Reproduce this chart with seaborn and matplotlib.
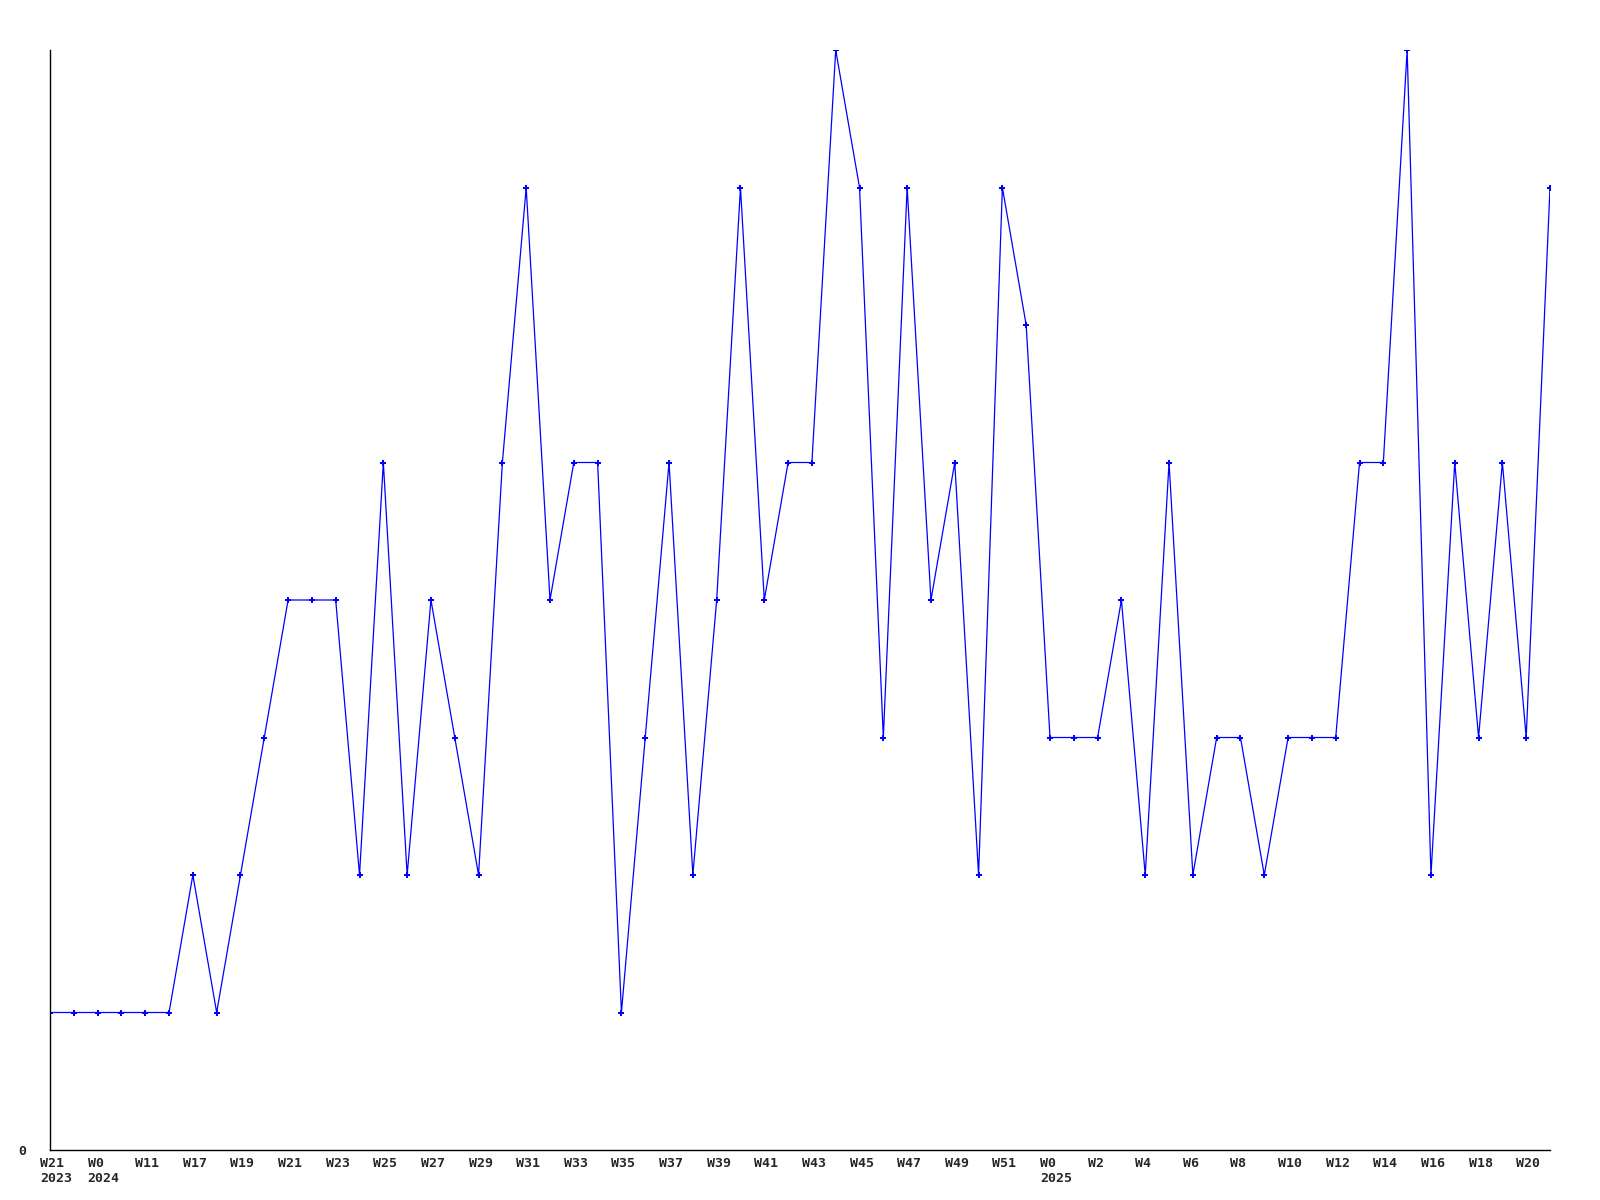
import matplotlib
matplotlib.use("Agg")
import matplotlib.pyplot as plt
import matplotlib.transforms as mtransforms
import numpy as np
import seaborn as sns

# weekly counts, one per point
values = [1, 1, 1, 1, 1, 1, 2, 1, 2, 3,
          4, 4, 4, 2, 5, 2, 4, 3, 2, 5,
          7, 4, 5, 5, 1, 3, 5, 2, 4, 7,
          4, 5, 5, 8, 7, 3, 7, 4, 5, 2,
          7, 6, 3, 3, 3, 4, 2, 5, 2, 3,
          3, 2, 3, 3, 3, 5, 5, 8, 2, 5,
          3, 5, 3, 7]
week_labels = ["W21\n2023", "W0\n2024", "W11", "W17", "W19", "W21", "W23", "W25",
               "W27", "W29", "W31", "W33", "W35", "W37", "W39", "W41",
               "W43", "W45", "W47", "W49", "W51", "W0\n2025", "W2", "W4",
               "W6", "W8", "W10", "W12", "W14", "W16", "W18", "W20"]

x = np.arange(len(values))

sns.set_style("white")
plt.rcParams['font.family'] = ['DejaVu Sans Mono']

fig = plt.figure(figsize=(16, 12), dpi=100)
ax = fig.add_axes([50 / 1600, 50 / 1200, 1500 / 1600, 1100 / 1200])

sns.lineplot(x=x, y=values, ax=ax, color=(0, 0, 1), linewidth=0.9,
             marker='P', markersize=5, markeredgewidth=0, markerfacecolor=(0, 0, 1))

ax.set_xlim(0, len(values) - 1)
ax.set_ylim(0, 8)

ax.set_xticks(x[::2])
ax.set_xticklabels(week_labels, fontsize=9.5, fontweight='bold', ha='left',
                   linespacing=1.25)
ax.set_yticks([0])
ax.set_yticklabels(["0"], fontsize=9.5, fontweight='bold')
ax.tick_params(axis='both', length=0)
ax.tick_params(axis='x', pad=5)
ax.tick_params(axis='y', pad=17)

shift = mtransforms.ScaledTranslation(-10 / 100, 0, fig.dpi_scale_trans)
for lbl in ax.get_xticklabels():
    lbl.set_transform(lbl.get_transform() + shift)

for side in ['top', 'right']:
    ax.spines[side].set_visible(False)
for side in ['left', 'bottom']:
    ax.spines[side].set_color('black')
    ax.spines[side].set_linewidth(1)

ax.set_xlabel("")
ax.set_ylabel("")

fig.savefig("out.png", dpi=100, facecolor='white')
